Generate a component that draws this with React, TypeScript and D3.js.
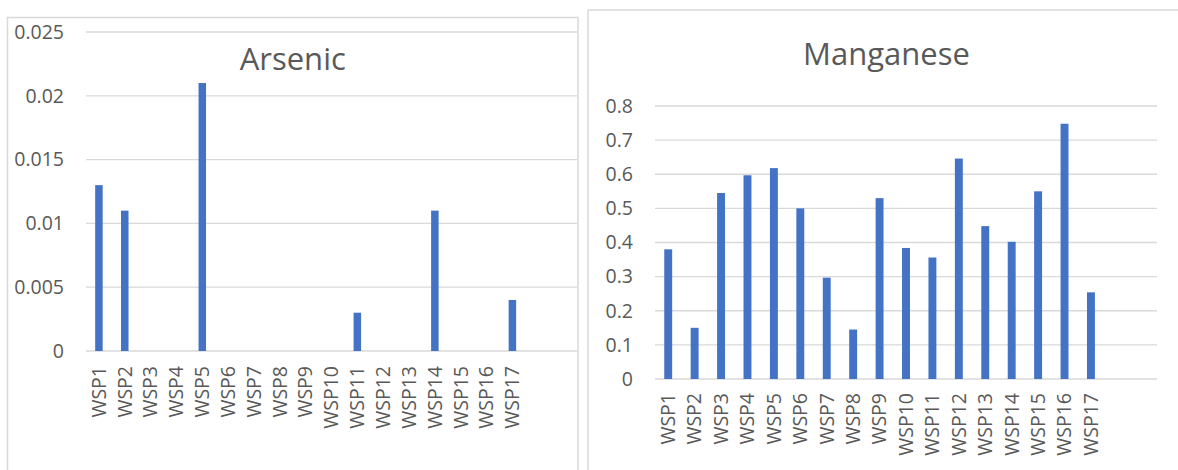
import React from "react";
import * as d3 from "d3";

const categories = [
  "WSP1", "WSP2", "WSP3", "WSP4", "WSP5", "WSP6", "WSP7", "WSP8", "WSP9",
  "WSP10", "WSP11", "WSP12", "WSP13", "WSP14", "WSP15", "WSP16", "WSP17",
];
const arsenicValues = [0.013, 0.011, 0, 0, 0.021, 0, 0, 0, 0, 0, 0.003, 0, 0, 0.011, 0, 0, 0.004];
const manganeseValues = [
  0.38, 0.15, 0.545, 0.597, 0.618, 0.5, 0.297, 0.145, 0.53, 0.384, 0.356, 0.646, 0.448, 0.402,
  0.55, 0.748, 0.254,
];
const arsenicTicks = [0, 0.005, 0.01, 0.015, 0.02, 0.025];
const arsenicTickLabels = ["0", "0.005", "0.01", "0.015", "0.02", "0.025"];
const manganeseTicks = [0, 0.1, 0.2, 0.3, 0.4, 0.5, 0.6, 0.7, 0.8];
const manganeseTickLabels = ["0", "0.1", "0.2", "0.3", "0.4", "0.5", "0.6", "0.7", "0.8"];

const FONT = "'Open Sans', 'Noto Sans', sans-serif";
const TEXT = "#595959";
const GRID = "#d9d9d9";
const BAR = "#4472C4";

type PanelProps = {
  title: string;
  values: number[];
  ticks: number[];
  tickLabels: string[];
  frame: { x: number; y: number; w: number; h: number };
  plot: { x0: number; x1: number; y0: number; y1: number };
  titleY: number;
  labelTop: number;
  pad: number;
};

function Panel({ title, values, ticks, tickLabels, frame, plot, titleY, labelTop, pad }: PanelProps) {
  const slots = 19;
  const step = (plot.x1 - plot.x0) / slots;
  const x = d3
    .scaleBand<string>()
    .domain(categories)
    .range([plot.x0, plot.x0 + step * categories.length])
    .paddingInner(pad)
    .paddingOuter(pad / 2);
  const y = d3
    .scaleLinear()
    .domain([ticks[0], ticks[ticks.length - 1]])
    .range([plot.y0, plot.y1]);

  return (
    <g>
      <rect
        x={frame.x}
        y={frame.y}
        width={frame.w}
        height={frame.h}
        fill="#fff"
        stroke={GRID}
        strokeWidth={1.5}
      />
      <text
        x={frame.x + frame.w / 2}
        y={titleY}
        textAnchor="middle"
        fontFamily={FONT}
        fontSize={31}
        fill={TEXT}
      >
        {title}
      </text>
      {ticks.map((t, i) => (
        <g key={i}>
          <line x1={plot.x0} x2={plot.x1} y1={y(t)} y2={y(t)} stroke={GRID} strokeWidth={1.3} />
          <text
            x={plot.x0 - 22}
            y={y(t)}
            dy="0.35em"
            textAnchor="end"
            fontFamily={FONT}
            fontSize={19.5}
            fill={TEXT}
          >
            {tickLabels[i]}
          </text>
        </g>
      ))}
      {categories.map((c, i) => (
        <rect
          key={c}
          x={x(c)}
          y={y(values[i])}
          width={x.bandwidth()}
          height={y(0) - y(values[i])}
          fill={BAR}
        />
      ))}
      {categories.map((c) => {
        const cx = (x(c) as number) + x.bandwidth() / 2;
        return (
          <text
            key={c}
            transform={`translate(${cx},${labelTop}) rotate(-90)`}
            dy="0.35em"
            textAnchor="end"
            fontFamily={FONT}
            fontSize={19.5}
            fill={TEXT}
          >
            {c}
          </text>
        );
      })}
    </g>
  );
}

export default function App() {
  return (
    <svg
      width={1178}
      height={470}
      style={{ position: "absolute", left: 0, top: 0, background: "#fff" }}
    >
      <Panel
        title="Arsenic"
        values={arsenicValues}
        ticks={arsenicTicks}
        tickLabels={arsenicTickLabels}
        frame={{ x: 7.5, y: 17.5, w: 570.5, h: 470 }}
        plot={{ x0: 86, x1: 577, y0: 351, y1: 32 }}
        titleY={70}
        labelTop={366}
        pad={0.71}
      />
      <Panel
        title="Manganese"
        values={manganeseValues}
        ticks={manganeseTicks}
        tickLabels={manganeseTickLabels}
        frame={{ x: 588, y: 10, w: 597, h: 470 }}
        plot={{ x0: 655, x1: 1157, y0: 379, y1: 106 }}
        titleY={65}
        labelTop={393}
        pad={0.7}
      />
    </svg>
  );
}
